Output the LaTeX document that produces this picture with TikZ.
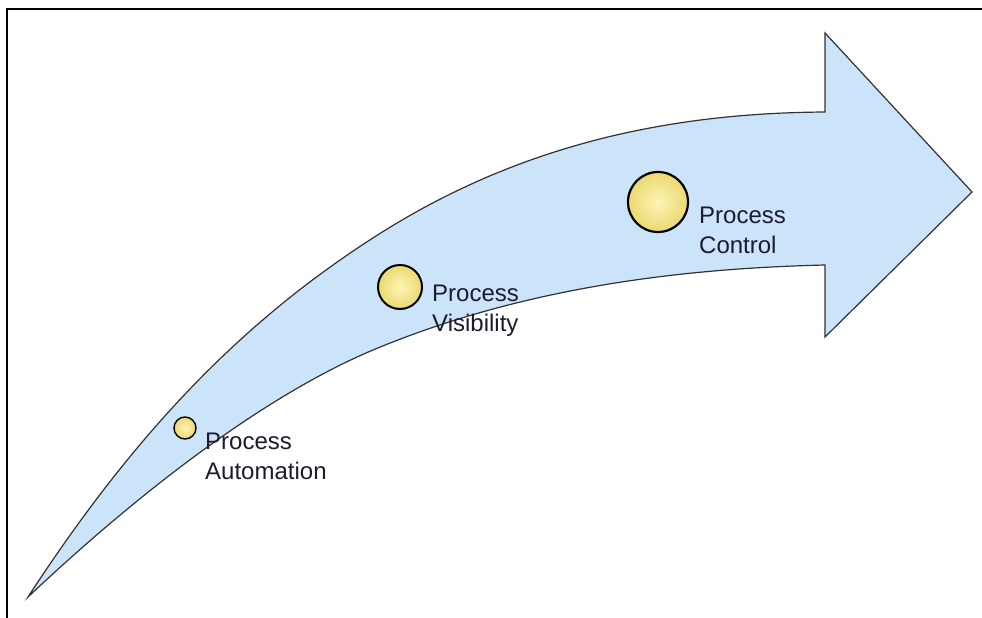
\documentclass[tikz,border=0pt]{standalone}
\usepackage{fontspec}
\setmainfont{Liberation Sans}
\begin{document}
\definecolor{shaftblue}{RGB}{204,228,250}
\definecolor{edgegray}{RGB}{50,50,50}
\definecolor{dotlight}{RGB}{252,246,182}
\definecolor{dotdark}{RGB}{236,216,112}
\definecolor{labelink}{RGB}{28,28,44}
\begin{tikzpicture}[x=1pt,y=-1pt,
  milestone/.style={circle,draw=black,inner sep=0pt,
    inner color=dotlight,outer color=dotdark},
  steplabel/.style={anchor=north west,inner sep=0pt,align=left,text=labelink,
    font=\fontsize{24}{30}\selectfont}]
  \useasboundingbox (0,0) rectangle (982,618);
  \fill[white] (0,0) rectangle (982,618);
  % frame along the top and left edges
  \draw[line width=2pt,black] (7,618) -- (7,9) -- (982,9);
  % the rising arrow: curved shaft plus head
  \coordinate (tip) at (28,597);
  \coordinate (uppermid) at (376,236);
  \coordinate (shafttop) at (825,112);
  \coordinate (headtop) at (825,33);
  \coordinate (headpoint) at (972,192);
  \coordinate (headbot) at (825,337);
  \coordinate (shaftbot) at (825,265);
  \coordinate (lowermid) at (373,350);
  \filldraw[fill=shaftblue,draw=edgegray,line width=1.2pt,line join=miter]
    (tip) .. controls (138,428) and (246,319) .. (uppermid)
          .. controls (526,140) and (680,113) .. (shafttop)
    -- (headtop) -- (headpoint) -- (headbot) -- (shaftbot)
          .. controls (700,268) and (533,283) .. (lowermid)
          .. controls (273,392) and (151,481) .. (tip)
    -- cycle;
  % milestones
  \node[milestone,minimum size=22pt,line width=1.4pt] (auto) at (185,428) {};
  \node[milestone,minimum size=44pt,line width=2pt] (vis) at (400,287) {};
  \node[milestone,minimum size=60pt,line width=2.2pt] (ctrl) at (658,202) {};
  % milestone labels
  \node[steplabel] (autolabel) at (205,432.5) {Process\\Automation};
  \node[steplabel] (vislabel) at (432,284.5) {Process\\Visibility};
  \node[steplabel] (ctrllabel) at (699,206.5) {Process\\Control};
\end{tikzpicture}
\end{document}
